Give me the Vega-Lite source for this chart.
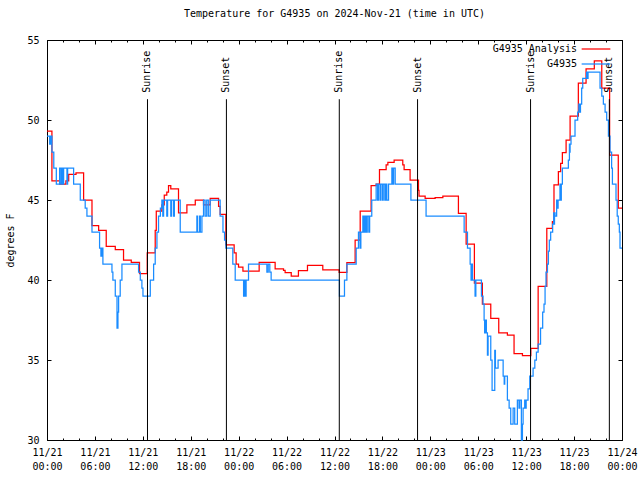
{
  "$schema": "https://vega.github.io/schema/vega-lite/v6.json",
  "width": 575,
  "height": 400,
  "autosize": {"type": "none"},
  "padding": {"left": 47, "right": 18, "top": 40, "bottom": 40},
  "background": "white",
  "title": {"text": "Temperature for G4935 on 2024-Nov-21 (time in UTC)", "font": "DejaVu Sans Mono", "fontSize": 10, "fontWeight": "normal", "offset": 16, "anchor": "middle", "color": "black"},
  "config": {
    "font": "DejaVu Sans Mono",
    "view": {"stroke": "black", "strokeWidth": 1},
    "axis": {"tickColor": "black", "labelColor": "black", "labelFont": "DejaVu Sans Mono", "labelFontSize": 10, "titleFont": "DejaVu Sans Mono", "titleColor": "black", "grid": false, "domain": false, "tickWidth": 1},
    "legend": {"labelFontSize": 10, "labelFont": "DejaVu Sans Mono", "labelColor": "black"}
  },
  "datasets": {
    "temps": [
      {"t": "2024-11-21T00:00:00Z", "series": "G4935 Analysis", "temp": 49.3},
      {"t": "2024-11-21T00:37:00Z", "series": "G4935 Analysis", "temp": 46.2},
      {"t": "2024-11-21T01:35:00Z", "series": "G4935 Analysis", "temp": 46.0},
      {"t": "2024-11-21T02:22:00Z", "series": "G4935 Analysis", "temp": 46.2},
      {"t": "2024-11-21T02:43:00Z", "series": "G4935 Analysis", "temp": 46.6},
      {"t": "2024-11-21T03:38:00Z", "series": "G4935 Analysis", "temp": 46.7},
      {"t": "2024-11-21T04:35:00Z", "series": "G4935 Analysis", "temp": 45.0},
      {"t": "2024-11-21T05:38:00Z", "series": "G4935 Analysis", "temp": 43.4},
      {"t": "2024-11-21T06:28:00Z", "series": "G4935 Analysis", "temp": 43.1},
      {"t": "2024-11-21T07:25:00Z", "series": "G4935 Analysis", "temp": 42.1},
      {"t": "2024-11-21T08:33:00Z", "series": "G4935 Analysis", "temp": 41.9},
      {"t": "2024-11-21T09:35:00Z", "series": "G4935 Analysis", "temp": 41.25},
      {"t": "2024-11-21T10:33:00Z", "series": "G4935 Analysis", "temp": 41.1},
      {"t": "2024-11-21T11:35:00Z", "series": "G4935 Analysis", "temp": 40.4},
      {"t": "2024-11-21T12:33:00Z", "series": "G4935 Analysis", "temp": 41.7},
      {"t": "2024-11-21T13:33:00Z", "series": "G4935 Analysis", "temp": 43.1},
      {"t": "2024-11-21T13:41:00Z", "series": "G4935 Analysis", "temp": 44.3},
      {"t": "2024-11-21T14:23:00Z", "series": "G4935 Analysis", "temp": 44.7},
      {"t": "2024-11-21T14:41:00Z", "series": "G4935 Analysis", "temp": 45.3},
      {"t": "2024-11-21T15:00:00Z", "series": "G4935 Analysis", "temp": 45.5},
      {"t": "2024-11-21T15:13:00Z", "series": "G4935 Analysis", "temp": 45.9},
      {"t": "2024-11-21T15:30:00Z", "series": "G4935 Analysis", "temp": 45.7},
      {"t": "2024-11-21T16:28:00Z", "series": "G4935 Analysis", "temp": 44.2},
      {"t": "2024-11-21T17:31:00Z", "series": "G4935 Analysis", "temp": 44.7},
      {"t": "2024-11-21T18:34:00Z", "series": "G4935 Analysis", "temp": 45.0},
      {"t": "2024-11-21T19:36:00Z", "series": "G4935 Analysis", "temp": 44.7},
      {"t": "2024-11-21T20:26:00Z", "series": "G4935 Analysis", "temp": 45.1},
      {"t": "2024-11-21T21:29:00Z", "series": "G4935 Analysis", "temp": 44.6},
      {"t": "2024-11-21T21:41:00Z", "series": "G4935 Analysis", "temp": 44.1},
      {"t": "2024-11-21T22:24:00Z", "series": "G4935 Analysis", "temp": 42.2},
      {"t": "2024-11-21T23:26:00Z", "series": "G4935 Analysis", "temp": 41.7},
      {"t": "2024-11-21T23:41:00Z", "series": "G4935 Analysis", "temp": 41.0},
      {"t": "2024-11-21T23:59:00Z", "series": "G4935 Analysis", "temp": 40.8},
      {"t": "2024-11-22T00:32:00Z", "series": "G4935 Analysis", "temp": 40.56},
      {"t": "2024-11-22T02:34:00Z", "series": "G4935 Analysis", "temp": 41.1},
      {"t": "2024-11-22T04:34:00Z", "series": "G4935 Analysis", "temp": 40.7},
      {"t": "2024-11-22T05:37:00Z", "series": "G4935 Analysis", "temp": 40.6},
      {"t": "2024-11-22T05:49:00Z", "series": "G4935 Analysis", "temp": 40.46},
      {"t": "2024-11-22T06:35:00Z", "series": "G4935 Analysis", "temp": 40.25},
      {"t": "2024-11-22T07:29:00Z", "series": "G4935 Analysis", "temp": 40.58},
      {"t": "2024-11-22T08:37:00Z", "series": "G4935 Analysis", "temp": 40.92},
      {"t": "2024-11-22T10:32:00Z", "series": "G4935 Analysis", "temp": 40.63},
      {"t": "2024-11-22T12:35:00Z", "series": "G4935 Analysis", "temp": 40.48},
      {"t": "2024-11-22T13:33:00Z", "series": "G4935 Analysis", "temp": 41.08},
      {"t": "2024-11-22T14:35:00Z", "series": "G4935 Analysis", "temp": 42.5},
      {"t": "2024-11-22T15:13:00Z", "series": "G4935 Analysis", "temp": 44.3},
      {"t": "2024-11-22T16:35:00Z", "series": "G4935 Analysis", "temp": 45.9},
      {"t": "2024-11-22T17:13:00Z", "series": "G4935 Analysis", "temp": 46.0},
      {"t": "2024-11-22T17:38:00Z", "series": "G4935 Analysis", "temp": 46.9},
      {"t": "2024-11-22T18:28:00Z", "series": "G4935 Analysis", "temp": 47.2},
      {"t": "2024-11-22T18:41:00Z", "series": "G4935 Analysis", "temp": 47.35},
      {"t": "2024-11-22T19:28:00Z", "series": "G4935 Analysis", "temp": 47.5},
      {"t": "2024-11-22T20:33:00Z", "series": "G4935 Analysis", "temp": 47.2},
      {"t": "2024-11-22T20:43:00Z", "series": "G4935 Analysis", "temp": 46.9},
      {"t": "2024-11-22T21:28:00Z", "series": "G4935 Analysis", "temp": 46.25},
      {"t": "2024-11-22T22:31:00Z", "series": "G4935 Analysis", "temp": 45.6},
      {"t": "2024-11-22T22:35:00Z", "series": "G4935 Analysis", "temp": 45.25},
      {"t": "2024-11-22T23:21:00Z", "series": "G4935 Analysis", "temp": 45.1},
      {"t": "2024-11-23T00:36:00Z", "series": "G4935 Analysis", "temp": 45.15},
      {"t": "2024-11-23T01:34:00Z", "series": "G4935 Analysis", "temp": 45.25},
      {"t": "2024-11-23T03:31:00Z", "series": "G4935 Analysis", "temp": 44.17},
      {"t": "2024-11-23T04:29:00Z", "series": "G4935 Analysis", "temp": 42.25},
      {"t": "2024-11-23T05:31:00Z", "series": "G4935 Analysis", "temp": 39.8},
      {"t": "2024-11-23T06:31:00Z", "series": "G4935 Analysis", "temp": 38.5},
      {"t": "2024-11-23T07:34:00Z", "series": "G4935 Analysis", "temp": 37.6},
      {"t": "2024-11-23T08:34:00Z", "series": "G4935 Analysis", "temp": 36.7},
      {"t": "2024-11-23T09:39:00Z", "series": "G4935 Analysis", "temp": 36.56},
      {"t": "2024-11-23T10:29:00Z", "series": "G4935 Analysis", "temp": 35.4},
      {"t": "2024-11-23T11:32:00Z", "series": "G4935 Analysis", "temp": 35.27},
      {"t": "2024-11-23T12:35:00Z", "series": "G4935 Analysis", "temp": 35.73},
      {"t": "2024-11-23T13:30:00Z", "series": "G4935 Analysis", "temp": 39.6},
      {"t": "2024-11-23T14:35:00Z", "series": "G4935 Analysis", "temp": 43.23},
      {"t": "2024-11-23T15:17:00Z", "series": "G4935 Analysis", "temp": 43.65},
      {"t": "2024-11-23T15:29:00Z", "series": "G4935 Analysis", "temp": 45.94},
      {"t": "2024-11-23T16:02:00Z", "series": "G4935 Analysis", "temp": 46.77},
      {"t": "2024-11-23T16:19:00Z", "series": "G4935 Analysis", "temp": 47.29},
      {"t": "2024-11-23T16:32:00Z", "series": "G4935 Analysis", "temp": 47.96},
      {"t": "2024-11-23T17:00:00Z", "series": "G4935 Analysis", "temp": 48.75},
      {"t": "2024-11-23T17:30:00Z", "series": "G4935 Analysis", "temp": 50.25},
      {"t": "2024-11-23T18:32:00Z", "series": "G4935 Analysis", "temp": 52.3},
      {"t": "2024-11-23T19:30:00Z", "series": "G4935 Analysis", "temp": 53.2},
      {"t": "2024-11-23T20:32:00Z", "series": "G4935 Analysis", "temp": 53.7},
      {"t": "2024-11-23T21:28:00Z", "series": "G4935 Analysis", "temp": 52.0},
      {"t": "2024-11-23T22:27:00Z", "series": "G4935 Analysis", "temp": 47.8},
      {"t": "2024-11-23T23:32:00Z", "series": "G4935 Analysis", "temp": 44.5},
      {"t": "2024-11-24T00:00:00Z", "series": "G4935 Analysis", "temp": 44.5},

      {"t": "2024-11-21T00:00:00Z", "series": "G4935", "temp": 49},
      {"t": "2024-11-21T00:20:00Z", "series": "G4935", "temp": 48.5},
      {"t": "2024-11-21T00:24:00Z", "series": "G4935", "temp": 49},
      {"t": "2024-11-21T00:29:00Z", "series": "G4935", "temp": 48.5},
      {"t": "2024-11-21T00:33:00Z", "series": "G4935", "temp": 49},
      {"t": "2024-11-21T00:37:00Z", "series": "G4935", "temp": 48},
      {"t": "2024-11-21T00:51:00Z", "series": "G4935", "temp": 47},
      {"t": "2024-11-21T01:10:00Z", "series": "G4935", "temp": 46},
      {"t": "2024-11-21T01:35:00Z", "series": "G4935", "temp": 47},
      {"t": "2024-11-21T01:45:00Z", "series": "G4935", "temp": 46},
      {"t": "2024-11-21T01:52:00Z", "series": "G4935", "temp": 47},
      {"t": "2024-11-21T02:00:00Z", "series": "G4935", "temp": 46},
      {"t": "2024-11-21T02:05:00Z", "series": "G4935", "temp": 47},
      {"t": "2024-11-21T02:30:00Z", "series": "G4935", "temp": 46},
      {"t": "2024-11-21T02:35:00Z", "series": "G4935", "temp": 47},
      {"t": "2024-11-21T03:20:00Z", "series": "G4935", "temp": 46},
      {"t": "2024-11-21T04:10:00Z", "series": "G4935", "temp": 45},
      {"t": "2024-11-21T04:47:00Z", "series": "G4935", "temp": 44.5},
      {"t": "2024-11-21T05:00:00Z", "series": "G4935", "temp": 44},
      {"t": "2024-11-21T05:38:00Z", "series": "G4935", "temp": 43},
      {"t": "2024-11-21T06:35:00Z", "series": "G4935", "temp": 42},
      {"t": "2024-11-21T06:45:00Z", "series": "G4935", "temp": 41.5},
      {"t": "2024-11-21T06:51:00Z", "series": "G4935", "temp": 42},
      {"t": "2024-11-21T07:00:00Z", "series": "G4935", "temp": 41},
      {"t": "2024-11-21T08:08:00Z", "series": "G4935", "temp": 40.5},
      {"t": "2024-11-21T08:15:00Z", "series": "G4935", "temp": 40},
      {"t": "2024-11-21T08:33:00Z", "series": "G4935", "temp": 39},
      {"t": "2024-11-21T08:46:00Z", "series": "G4935", "temp": 37},
      {"t": "2024-11-21T08:53:00Z", "series": "G4935", "temp": 38},
      {"t": "2024-11-21T08:58:00Z", "series": "G4935", "temp": 39},
      {"t": "2024-11-21T09:10:00Z", "series": "G4935", "temp": 40},
      {"t": "2024-11-21T09:23:00Z", "series": "G4935", "temp": 41},
      {"t": "2024-11-21T11:28:00Z", "series": "G4935", "temp": 40.5},
      {"t": "2024-11-21T11:41:00Z", "series": "G4935", "temp": 40},
      {"t": "2024-11-21T11:53:00Z", "series": "G4935", "temp": 39.5},
      {"t": "2024-11-21T12:01:00Z", "series": "G4935", "temp": 39},
      {"t": "2024-11-21T12:56:00Z", "series": "G4935", "temp": 40},
      {"t": "2024-11-21T13:21:00Z", "series": "G4935", "temp": 41},
      {"t": "2024-11-21T13:33:00Z", "series": "G4935", "temp": 42},
      {"t": "2024-11-21T13:46:00Z", "series": "G4935", "temp": 43},
      {"t": "2024-11-21T13:58:00Z", "series": "G4935", "temp": 44},
      {"t": "2024-11-21T14:12:00Z", "series": "G4935", "temp": 44.5},
      {"t": "2024-11-21T14:23:00Z", "series": "G4935", "temp": 45},
      {"t": "2024-11-21T14:30:00Z", "series": "G4935", "temp": 44},
      {"t": "2024-11-21T14:36:00Z", "series": "G4935", "temp": 45},
      {"t": "2024-11-21T15:00:00Z", "series": "G4935", "temp": 44},
      {"t": "2024-11-21T15:06:00Z", "series": "G4935", "temp": 45},
      {"t": "2024-11-21T15:30:00Z", "series": "G4935", "temp": 44},
      {"t": "2024-11-21T15:36:00Z", "series": "G4935", "temp": 45},
      {"t": "2024-11-21T15:51:00Z", "series": "G4935", "temp": 44},
      {"t": "2024-11-21T15:57:00Z", "series": "G4935", "temp": 45},
      {"t": "2024-11-21T16:41:00Z", "series": "G4935", "temp": 43},
      {"t": "2024-11-21T18:46:00Z", "series": "G4935", "temp": 44},
      {"t": "2024-11-21T18:51:00Z", "series": "G4935", "temp": 43},
      {"t": "2024-11-21T19:06:00Z", "series": "G4935", "temp": 44},
      {"t": "2024-11-21T19:12:00Z", "series": "G4935", "temp": 43},
      {"t": "2024-11-21T19:24:00Z", "series": "G4935", "temp": 44},
      {"t": "2024-11-21T19:36:00Z", "series": "G4935", "temp": 45},
      {"t": "2024-11-21T19:48:00Z", "series": "G4935", "temp": 44},
      {"t": "2024-11-21T20:00:00Z", "series": "G4935", "temp": 45},
      {"t": "2024-11-21T20:12:00Z", "series": "G4935", "temp": 44},
      {"t": "2024-11-21T20:26:00Z", "series": "G4935", "temp": 45},
      {"t": "2024-11-21T21:41:00Z", "series": "G4935", "temp": 44},
      {"t": "2024-11-21T22:02:00Z", "series": "G4935", "temp": 43},
      {"t": "2024-11-21T22:14:00Z", "series": "G4935", "temp": 42.5},
      {"t": "2024-11-21T22:24:00Z", "series": "G4935", "temp": 42},
      {"t": "2024-11-21T23:16:00Z", "series": "G4935", "temp": 41},
      {"t": "2024-11-21T23:34:00Z", "series": "G4935", "temp": 40},
      {"t": "2024-11-22T00:37:00Z", "series": "G4935", "temp": 39},
      {"t": "2024-11-22T00:42:00Z", "series": "G4935", "temp": 40},
      {"t": "2024-11-22T00:48:00Z", "series": "G4935", "temp": 39},
      {"t": "2024-11-22T00:56:00Z", "series": "G4935", "temp": 40},
      {"t": "2024-11-22T01:14:00Z", "series": "G4935", "temp": 41},
      {"t": "2024-11-22T03:32:00Z", "series": "G4935", "temp": 40.5},
      {"t": "2024-11-22T03:42:00Z", "series": "G4935", "temp": 41},
      {"t": "2024-11-22T03:54:00Z", "series": "G4935", "temp": 40.5},
      {"t": "2024-11-22T04:04:00Z", "series": "G4935", "temp": 40},
      {"t": "2024-11-22T12:37:00Z", "series": "G4935", "temp": 39},
      {"t": "2024-11-22T13:15:00Z", "series": "G4935", "temp": 40},
      {"t": "2024-11-22T13:33:00Z", "series": "G4935", "temp": 41},
      {"t": "2024-11-22T14:43:00Z", "series": "G4935", "temp": 42},
      {"t": "2024-11-22T15:00:00Z", "series": "G4935", "temp": 43},
      {"t": "2024-11-22T15:12:00Z", "series": "G4935", "temp": 42},
      {"t": "2024-11-22T15:18:00Z", "series": "G4935", "temp": 43},
      {"t": "2024-11-22T15:33:00Z", "series": "G4935", "temp": 44},
      {"t": "2024-11-22T15:42:00Z", "series": "G4935", "temp": 43},
      {"t": "2024-11-22T15:51:00Z", "series": "G4935", "temp": 44},
      {"t": "2024-11-22T16:00:00Z", "series": "G4935", "temp": 43},
      {"t": "2024-11-22T16:06:00Z", "series": "G4935", "temp": 44},
      {"t": "2024-11-22T16:18:00Z", "series": "G4935", "temp": 43},
      {"t": "2024-11-22T16:24:00Z", "series": "G4935", "temp": 44},
      {"t": "2024-11-22T16:40:00Z", "series": "G4935", "temp": 45},
      {"t": "2024-11-22T17:13:00Z", "series": "G4935", "temp": 46},
      {"t": "2024-11-22T17:24:00Z", "series": "G4935", "temp": 45},
      {"t": "2024-11-22T17:30:00Z", "series": "G4935", "temp": 46},
      {"t": "2024-11-22T17:42:00Z", "series": "G4935", "temp": 45},
      {"t": "2024-11-22T17:48:00Z", "series": "G4935", "temp": 46},
      {"t": "2024-11-22T18:00:00Z", "series": "G4935", "temp": 45},
      {"t": "2024-11-22T18:06:00Z", "series": "G4935", "temp": 46},
      {"t": "2024-11-22T18:18:00Z", "series": "G4935", "temp": 45},
      {"t": "2024-11-22T18:24:00Z", "series": "G4935", "temp": 46},
      {"t": "2024-11-22T18:33:00Z", "series": "G4935", "temp": 45},
      {"t": "2024-11-22T18:46:00Z", "series": "G4935", "temp": 46},
      {"t": "2024-11-22T19:11:00Z", "series": "G4935", "temp": 47},
      {"t": "2024-11-22T19:18:00Z", "series": "G4935", "temp": 46},
      {"t": "2024-11-22T19:24:00Z", "series": "G4935", "temp": 47},
      {"t": "2024-11-22T19:36:00Z", "series": "G4935", "temp": 46},
      {"t": "2024-11-22T21:34:00Z", "series": "G4935", "temp": 45},
      {"t": "2024-11-22T23:28:00Z", "series": "G4935", "temp": 44},
      {"t": "2024-11-23T04:14:00Z", "series": "G4935", "temp": 43},
      {"t": "2024-11-23T04:39:00Z", "series": "G4935", "temp": 42},
      {"t": "2024-11-23T04:59:00Z", "series": "G4935", "temp": 41},
      {"t": "2024-11-23T05:06:00Z", "series": "G4935", "temp": 40},
      {"t": "2024-11-23T05:12:00Z", "series": "G4935", "temp": 41},
      {"t": "2024-11-23T05:16:00Z", "series": "G4935", "temp": 40},
      {"t": "2024-11-23T05:36:00Z", "series": "G4935", "temp": 39},
      {"t": "2024-11-23T05:42:00Z", "series": "G4935", "temp": 40},
      {"t": "2024-11-23T06:24:00Z", "series": "G4935", "temp": 39},
      {"t": "2024-11-23T06:36:00Z", "series": "G4935", "temp": 38.5},
      {"t": "2024-11-23T06:44:00Z", "series": "G4935", "temp": 37.5},
      {"t": "2024-11-23T06:48:00Z", "series": "G4935", "temp": 36.7},
      {"t": "2024-11-23T06:54:00Z", "series": "G4935", "temp": 37.5},
      {"t": "2024-11-23T07:01:00Z", "series": "G4935", "temp": 36.7},
      {"t": "2024-11-23T07:09:00Z", "series": "G4935", "temp": 35.3},
      {"t": "2024-11-23T07:14:00Z", "series": "G4935", "temp": 36.5},
      {"t": "2024-11-23T07:34:00Z", "series": "G4935", "temp": 35},
      {"t": "2024-11-23T07:44:00Z", "series": "G4935", "temp": 33.1},
      {"t": "2024-11-23T08:04:00Z", "series": "G4935", "temp": 35.6},
      {"t": "2024-11-23T08:09:00Z", "series": "G4935", "temp": 34.5},
      {"t": "2024-11-23T08:29:00Z", "series": "G4935", "temp": 35},
      {"t": "2024-11-23T09:07:00Z", "series": "G4935", "temp": 34},
      {"t": "2024-11-23T09:15:00Z", "series": "G4935", "temp": 33.5},
      {"t": "2024-11-23T09:19:00Z", "series": "G4935", "temp": 34},
      {"t": "2024-11-23T09:39:00Z", "series": "G4935", "temp": 32.5},
      {"t": "2024-11-23T09:52:00Z", "series": "G4935", "temp": 32},
      {"t": "2024-11-23T10:04:00Z", "series": "G4935", "temp": 31},
      {"t": "2024-11-23T10:22:00Z", "series": "G4935", "temp": 32},
      {"t": "2024-11-23T10:34:00Z", "series": "G4935", "temp": 31},
      {"t": "2024-11-23T10:54:00Z", "series": "G4935", "temp": 32.5},
      {"t": "2024-11-23T11:06:00Z", "series": "G4935", "temp": 32},
      {"t": "2024-11-23T11:12:00Z", "series": "G4935", "temp": 32.5},
      {"t": "2024-11-23T11:24:00Z", "series": "G4935", "temp": 30},
      {"t": "2024-11-23T11:32:00Z", "series": "G4935", "temp": 31},
      {"t": "2024-11-23T11:37:00Z", "series": "G4935", "temp": 32},
      {"t": "2024-11-23T11:49:00Z", "series": "G4935", "temp": 32.5},
      {"t": "2024-11-23T11:54:00Z", "series": "G4935", "temp": 32},
      {"t": "2024-11-23T12:00:00Z", "series": "G4935", "temp": 32.5},
      {"t": "2024-11-23T12:14:00Z", "series": "G4935", "temp": 33.2},
      {"t": "2024-11-23T12:27:00Z", "series": "G4935", "temp": 34},
      {"t": "2024-11-23T12:52:00Z", "series": "G4935", "temp": 34.5},
      {"t": "2024-11-23T13:05:00Z", "series": "G4935", "temp": 35},
      {"t": "2024-11-23T13:17:00Z", "series": "G4935", "temp": 35.5},
      {"t": "2024-11-23T13:30:00Z", "series": "G4935", "temp": 36},
      {"t": "2024-11-23T13:48:00Z", "series": "G4935", "temp": 37},
      {"t": "2024-11-23T14:04:00Z", "series": "G4935", "temp": 38},
      {"t": "2024-11-23T14:14:00Z", "series": "G4935", "temp": 38.5},
      {"t": "2024-11-23T14:22:00Z", "series": "G4935", "temp": 39.6},
      {"t": "2024-11-23T14:29:00Z", "series": "G4935", "temp": 40.5},
      {"t": "2024-11-23T14:40:00Z", "series": "G4935", "temp": 41},
      {"t": "2024-11-23T14:47:00Z", "series": "G4935", "temp": 41.8},
      {"t": "2024-11-23T14:54:00Z", "series": "G4935", "temp": 42.5},
      {"t": "2024-11-23T15:04:00Z", "series": "G4935", "temp": 43},
      {"t": "2024-11-23T15:19:00Z", "series": "G4935", "temp": 43.5},
      {"t": "2024-11-23T15:27:00Z", "series": "G4935", "temp": 44.2},
      {"t": "2024-11-23T15:30:00Z", "series": "G4935", "temp": 43.5},
      {"t": "2024-11-23T15:33:00Z", "series": "G4935", "temp": 44.2},
      {"t": "2024-11-23T15:37:00Z", "series": "G4935", "temp": 44},
      {"t": "2024-11-23T15:49:00Z", "series": "G4935", "temp": 45},
      {"t": "2024-11-23T15:54:00Z", "series": "G4935", "temp": 44.5},
      {"t": "2024-11-23T16:00:00Z", "series": "G4935", "temp": 45},
      {"t": "2024-11-23T16:14:00Z", "series": "G4935", "temp": 46},
      {"t": "2024-11-23T16:18:00Z", "series": "G4935", "temp": 45},
      {"t": "2024-11-23T16:24:00Z", "series": "G4935", "temp": 46},
      {"t": "2024-11-23T16:32:00Z", "series": "G4935", "temp": 47},
      {"t": "2024-11-23T17:17:00Z", "series": "G4935", "temp": 47.5},
      {"t": "2024-11-23T17:25:00Z", "series": "G4935", "temp": 48.5},
      {"t": "2024-11-23T17:27:00Z", "series": "G4935", "temp": 48},
      {"t": "2024-11-23T17:30:00Z", "series": "G4935", "temp": 48.5},
      {"t": "2024-11-23T17:37:00Z", "series": "G4935", "temp": 49},
      {"t": "2024-11-23T18:07:00Z", "series": "G4935", "temp": 50},
      {"t": "2024-11-23T18:27:00Z", "series": "G4935", "temp": 50.5},
      {"t": "2024-11-23T18:36:00Z", "series": "G4935", "temp": 51},
      {"t": "2024-11-23T18:42:00Z", "series": "G4935", "temp": 50.5},
      {"t": "2024-11-23T18:48:00Z", "series": "G4935", "temp": 51},
      {"t": "2024-11-23T18:57:00Z", "series": "G4935", "temp": 52},
      {"t": "2024-11-23T19:05:00Z", "series": "G4935", "temp": 52.6},
      {"t": "2024-11-23T19:34:00Z", "series": "G4935", "temp": 53},
      {"t": "2024-11-23T19:39:00Z", "series": "G4935", "temp": 52.6},
      {"t": "2024-11-23T19:45:00Z", "series": "G4935", "temp": 53},
      {"t": "2024-11-23T21:15:00Z", "series": "G4935", "temp": 52},
      {"t": "2024-11-23T21:28:00Z", "series": "G4935", "temp": 51.5},
      {"t": "2024-11-23T21:40:00Z", "series": "G4935", "temp": 51},
      {"t": "2024-11-23T21:53:00Z", "series": "G4935", "temp": 50.5},
      {"t": "2024-11-23T22:05:00Z", "series": "G4935", "temp": 50},
      {"t": "2024-11-23T22:18:00Z", "series": "G4935", "temp": 49},
      {"t": "2024-11-23T22:30:00Z", "series": "G4935", "temp": 48},
      {"t": "2024-11-23T22:42:00Z", "series": "G4935", "temp": 47},
      {"t": "2024-11-23T22:48:00Z", "series": "G4935", "temp": 46},
      {"t": "2024-11-23T23:15:00Z", "series": "G4935", "temp": 45},
      {"t": "2024-11-23T23:24:00Z", "series": "G4935", "temp": 44},
      {"t": "2024-11-23T23:32:00Z", "series": "G4935", "temp": 43.5},
      {"t": "2024-11-23T23:40:00Z", "series": "G4935", "temp": 43},
      {"t": "2024-11-23T23:45:00Z", "series": "G4935", "temp": 42},
      {"t": "2024-11-24T00:00:00Z", "series": "G4935", "temp": 42}
    ],
    "sun": [
      {"t": "2024-11-21T12:35:00Z", "label": "Sunrise"},
      {"t": "2024-11-21T22:28:00Z", "label": "Sunset"},
      {"t": "2024-11-22T12:36:00Z", "label": "Sunrise"},
      {"t": "2024-11-22T22:24:00Z", "label": "Sunset"},
      {"t": "2024-11-23T12:33:00Z", "label": "Sunrise"},
      {"t": "2024-11-23T22:25:00Z", "label": "Sunset"}
    ]
  },
  "layer": [
    {
      "data": {"name": "temps"},
      "transform": [{"filter": "datum.series == 'G4935 Analysis'"}],
      "mark": {"type": "line", "interpolate": "step-after", "strokeWidth": 1.25},
      "encoding": {
        "x": {"field": "t", "type": "temporal", "scale": {"type": "utc", "domain": [1732147200000, 1732406400000]},
          "axis": {"orient": "bottom", "title": null, "tickSize": -4,
            "values": [1732147200000, 1732168800000, 1732190400000, 1732212000000, 1732233600000, 1732255200000, 1732276800000, 1732298400000, 1732320000000, 1732341600000, 1732363200000, 1732384800000, 1732406400000],
            "labelExpr": "[utcFormat(datum.value, '%m/%d'), utcFormat(datum.value, '%H:%M')]",
            "labelFlush": false, "labelOverlap": false, "labelPadding": 11, "labelBaseline": "top", "labelLineHeight": 14}},
        "y": {"field": "temp", "type": "quantitative", "scale": {"domain": [30, 55], "nice": false, "zero": false},
          "axis": {"orient": "left", "values": [30, 35, 40, 45, 50, 55], "tickSize": -4, "labelPadding": 12,
            "title": "degrees F", "titleX": -37, "titleY": 200, "titleAngle": 270, "titleAlign": "center", "titleBaseline": "middle", "titleFontWeight": "normal", "titleFontSize": 10}},
        "color": {"field": "series", "type": "nominal", "scale": {"domain": ["G4935 Analysis", "G4935"], "range": ["#ff0000", "#1a8cff"]},
          "legend": {"title": null, "orient": "none", "legendX": 539, "legendY": -1, "labelAlign": "right", "labelOffset": -29, "symbolType": "M-1.6,0H1.6", "symbolSize": 322, "symbolStrokeWidth": 1.25, "rowPadding": 0, "padding": 0}}
      }
    },
    {
      "data": {"name": "temps"},
      "transform": [{"filter": "datum.series == 'G4935'"}],
      "mark": {"type": "line", "interpolate": "step-after", "strokeWidth": 1.25},
      "encoding": {
        "x": {"field": "t", "type": "temporal", "scale": {"type": "utc", "domain": [1732147200000, 1732406400000]},
          "axis": {"orient": "top", "title": null, "labels": false, "tickSize": -4,
            "values": [1732147200000, 1732168800000, 1732190400000, 1732212000000, 1732233600000, 1732255200000, 1732276800000, 1732298400000, 1732320000000, 1732341600000, 1732363200000, 1732384800000, 1732406400000]}},
        "y": {"field": "temp", "type": "quantitative", "scale": {"domain": [30, 55], "nice": false, "zero": false},
          "axis": {"orient": "right", "values": [30, 35, 40, 45, 50, 55], "tickSize": -4, "labels": false, "title": null}},
        "color": {"field": "series", "type": "nominal", "scale": {"domain": ["G4935 Analysis", "G4935"], "range": ["#ff0000", "#1a8cff"]},
          "legend": {"title": null, "orient": "none", "legendX": 539, "legendY": -1, "labelAlign": "right", "labelOffset": -29, "symbolType": "M-1.6,0H1.6", "symbolSize": 322, "symbolStrokeWidth": 1.25, "rowPadding": 0, "padding": 0}}
      }
    },
    {
      "data": {"name": "sun"},
      "mark": {"type": "rule", "color": "black", "strokeWidth": 1},
      "encoding": {
        "x": {"field": "t", "type": "temporal", "scale": {"type": "utc", "domain": [1732147200000, 1732406400000]},
          "axis": {"orient": "bottom", "title": null, "labels": false, "tickSize": -2,
            "values": [1732147200000, 1732154400000, 1732161600000, 1732168800000, 1732176000000, 1732183200000, 1732190400000, 1732197600000, 1732204800000, 1732212000000, 1732219200000, 1732226400000, 1732233600000, 1732240800000, 1732248000000, 1732255200000, 1732262400000, 1732269600000, 1732276800000, 1732284000000, 1732291200000, 1732298400000, 1732305600000, 1732312800000, 1732320000000, 1732327200000, 1732334400000, 1732341600000, 1732348800000, 1732356000000, 1732363200000, 1732370400000, 1732377600000, 1732384800000, 1732392000000, 1732399200000, 1732406400000]}},
        "y": {"datum": 51.3, "type": "quantitative", "scale": {"domain": [30, 55], "nice": false, "zero": false}, "axis": null},
        "y2": {"datum": 30}
      }
    },
    {
      "data": {"name": "sun"},
      "mark": {"type": "text", "angle": 270, "align": "left", "baseline": "middle", "font": "DejaVu Sans Mono", "fontSize": 10, "color": "black"},
      "encoding": {
        "x": {"field": "t", "type": "temporal", "scale": {"type": "utc", "domain": [1732147200000, 1732406400000]},
          "axis": {"orient": "top", "title": null, "labels": false, "tickSize": -2,
            "values": [1732147200000, 1732154400000, 1732161600000, 1732168800000, 1732176000000, 1732183200000, 1732190400000, 1732197600000, 1732204800000, 1732212000000, 1732219200000, 1732226400000, 1732233600000, 1732240800000, 1732248000000, 1732255200000, 1732262400000, 1732269600000, 1732276800000, 1732284000000, 1732291200000, 1732298400000, 1732305600000, 1732312800000, 1732320000000, 1732327200000, 1732334400000, 1732341600000, 1732348800000, 1732356000000, 1732363200000, 1732370400000, 1732377600000, 1732384800000, 1732392000000, 1732399200000, 1732406400000]}},
        "y": {"datum": 51.7, "type": "quantitative", "scale": {"domain": [30, 55], "nice": false, "zero": false}, "axis": null},
        "text": {"field": "label"}
      }
    }
  ],
  "resolve": {"axis": {"x": "independent", "y": "independent"}}
}
